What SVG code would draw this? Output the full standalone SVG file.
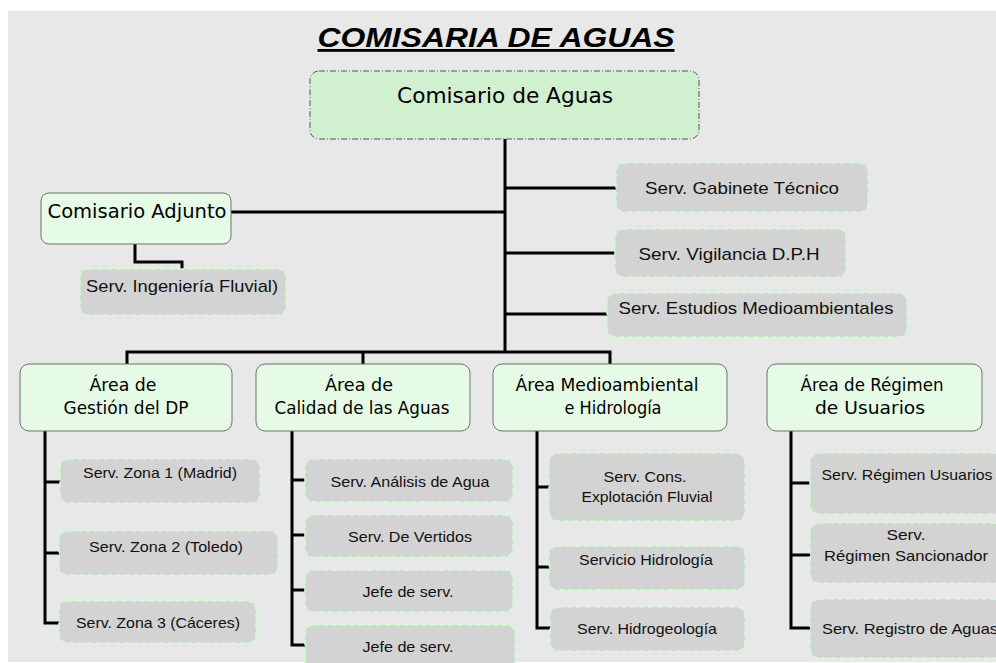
<svg xmlns="http://www.w3.org/2000/svg" width="996" height="663" viewBox="0 0 996 663">
<style>
.bg{fill:#e8e8e8}
.main{fill:#d0f0d0;stroke:#555;stroke-width:1;stroke-dasharray:6,2,1,2}
.area{fill:#e5fbe5;stroke:#707070;stroke-width:1}
.svc{fill:#d3d3d3;stroke:#ccffcc;stroke-width:1.5;stroke-dasharray:6,3}
.c{fill:none;stroke:#000;stroke-width:3}
.comic{font-family:"Comic Sans MS","DejaVu Sans",sans-serif;fill:#000;text-anchor:middle}
.arial{font-family:"Liberation Sans",Arial,sans-serif;fill:#111;text-anchor:middle}
.title{font-family:"Liberation Sans",Arial,sans-serif;font-weight:bold;font-style:italic;font-size:28px;fill:#000;text-anchor:middle;text-decoration:underline}
</style>
<rect x="0" y="0" width="996" height="663" fill="#fff"/>
<rect class="bg" x="8" y="11" width="988" height="651"/>
<text class="title" x="496" y="47" textLength="357" lengthAdjust="spacingAndGlyphs">COMISARIA DE AGUAS</text>
<g id="connectors">
<path class="c" d="M505,139 V352 M231,212 H505 M505,188 H616 M505,253 H615 M505,314 H607"/>
<path class="c" d="M127,364 V352 H610 V364 M363,352 V364"/>
<path class="c" d="M135,244 V262 H182 V269"/>
<path class="c" d="M45,431 V623 H60 M45,482 H60 M45,553 H59"/>
<path class="c" d="M292,431 V645 H305 M292,480 H305 M292,535 H305 M292,590 H305"/>
<path class="c" d="M537,431 V628 H550 M537,487 H549 M537,567 H549"/>
<path class="c" d="M791,431 V628 H810 M791,483 H810 M791,555 H810"/>
</g>
<g id="comisario">
<rect class="main" x="310" y="71" width="389" height="68" rx="9"/>
<text class="comic" x="505" y="103" font-size="22" textLength="216" lengthAdjust="spacingAndGlyphs">Comisario de Aguas</text>
</g>
<g id="adjunto">
<rect class="area" x="41" y="193" width="190" height="51" rx="8"/>
<text class="comic" x="137" y="218" font-size="20" textLength="179" lengthAdjust="spacingAndGlyphs">Comisario Adjunto</text>
</g>
<g id="ingenieria">
<rect class="svc" x="80" y="269" width="206" height="46" rx="8"/>
<text class="arial" x="182" y="292" font-size="17" textLength="192" lengthAdjust="spacingAndGlyphs">Serv. Ingeniería Fluvial)</text>
</g>
<g id="gabinete">
<rect class="svc" x="616" y="163" width="252" height="49" rx="8"/>
<text class="arial" x="742" y="194" font-size="17" textLength="194" lengthAdjust="spacingAndGlyphs">Serv. Gabinete Técnico</text>
</g>
<g id="vigilancia">
<rect class="svc" x="615" y="229" width="231" height="48" rx="8"/>
<text class="arial" x="729" y="260" font-size="17" textLength="181" lengthAdjust="spacingAndGlyphs">Serv. Vigilancia D.P.H</text>
</g>
<g id="estudios">
<rect class="svc" x="607" y="293" width="300" height="44" rx="8"/>
<text class="arial" x="756" y="314" font-size="17" textLength="275" lengthAdjust="spacingAndGlyphs">Serv. Estudios Medioambientales</text>
</g>
<g id="area-gestion">
<rect class="area" x="20" y="364" width="212" height="67" rx="9"/>
<text class="comic" x="123" y="391" font-size="17" textLength="67" lengthAdjust="spacingAndGlyphs">Área de</text>
<text class="comic" x="126" y="414" font-size="17" textLength="125" lengthAdjust="spacingAndGlyphs">Gestión del DP</text>
</g>
<g id="area-calidad">
<rect class="area" x="256" y="364" width="214" height="67" rx="9"/>
<text class="comic" x="359" y="391" font-size="17" textLength="68" lengthAdjust="spacingAndGlyphs">Área de</text>
<text class="comic" x="362" y="414" font-size="17" textLength="175" lengthAdjust="spacingAndGlyphs">Calidad de las Aguas</text>
</g>
<g id="area-medio">
<rect class="area" x="493" y="364" width="234" height="67" rx="9"/>
<text class="comic" x="607" y="391" font-size="17" textLength="183" lengthAdjust="spacingAndGlyphs">Área Medioambiental</text>
<text class="comic" x="613" y="414" font-size="17" textLength="97" lengthAdjust="spacingAndGlyphs">e Hidrología</text>
</g>
<g id="area-regimen">
<rect class="area" x="767" y="364" width="215" height="67" rx="9"/>
<text class="comic" x="872" y="391" font-size="17" textLength="143" lengthAdjust="spacingAndGlyphs">Área de Régimen</text>
<text class="comic" x="870" y="414" font-size="17" textLength="110" lengthAdjust="spacingAndGlyphs">de Usuarios</text>
</g>
<g id="zona1">
<rect class="svc" x="60" y="459" width="200" height="44" rx="8"/>
<text class="arial" x="160" y="478" font-size="15" textLength="154" lengthAdjust="spacingAndGlyphs">Serv. Zona 1 (Madrid)</text>
</g>
<g id="zona2">
<rect class="svc" x="59" y="531" width="219" height="44" rx="8"/>
<text class="arial" x="166" y="552" font-size="15" textLength="154" lengthAdjust="spacingAndGlyphs">Serv. Zona 2 (Toledo)</text>
</g>
<g id="zona3">
<rect class="svc" x="59" y="601" width="197" height="42" rx="8"/>
<text class="arial" x="158" y="628" font-size="15" textLength="164" lengthAdjust="spacingAndGlyphs">Serv. Zona 3 (Cáceres)</text>
</g>
<g id="analisis">
<rect class="svc" x="305" y="459" width="208" height="43" rx="8"/>
<text class="arial" x="410" y="487" font-size="15" textLength="159" lengthAdjust="spacingAndGlyphs">Serv. Análisis de Agua</text>
</g>
<g id="vertidos">
<rect class="svc" x="305" y="515" width="208" height="42" rx="8"/>
<text class="arial" x="410" y="542" font-size="15" textLength="124" lengthAdjust="spacingAndGlyphs">Serv. De Vertidos</text>
</g>
<g id="jefe1">
<rect class="svc" x="305" y="570" width="208" height="42" rx="8"/>
<text class="arial" x="408" y="597" font-size="15" textLength="91" lengthAdjust="spacingAndGlyphs">Jefe de serv.</text>
</g>
<g id="jefe2">
<rect class="svc" x="305" y="625" width="210" height="48" rx="8"/>
<text class="arial" x="408" y="652" font-size="15" textLength="91" lengthAdjust="spacingAndGlyphs">Jefe de serv.</text>
</g>
<g id="cons">
<rect class="svc" x="549" y="453" width="196" height="68" rx="9"/>
<text class="arial" x="645" y="482" font-size="15" textLength="83" lengthAdjust="spacingAndGlyphs">Serv. Cons.</text>
<text class="arial" x="647" y="502" font-size="15" textLength="131" lengthAdjust="spacingAndGlyphs">Explotación Fluvial</text>
</g>
<g id="hidrologia">
<rect class="svc" x="549" y="546" width="196" height="44" rx="8"/>
<text class="arial" x="646" y="565" font-size="15" textLength="134" lengthAdjust="spacingAndGlyphs">Servicio Hidrología</text>
</g>
<g id="hidrogeologia">
<rect class="svc" x="550" y="607" width="195" height="44" rx="8"/>
<text class="arial" x="647" y="634" font-size="15" textLength="140" lengthAdjust="spacingAndGlyphs">Serv. Hidrogeología</text>
</g>
<g id="usuarios">
<rect class="svc" x="810" y="453" width="195" height="61" rx="9"/>
<text class="arial" x="907" y="480" font-size="15" textLength="171" lengthAdjust="spacingAndGlyphs">Serv. Régimen Usuarios</text>
</g>
<g id="sancionador">
<rect class="svc" x="810" y="523" width="195" height="60" rx="9"/>
<text class="arial" x="906" y="540" font-size="15" textLength="39" lengthAdjust="spacingAndGlyphs">Serv.</text>
<text class="arial" x="906" y="561" font-size="15" textLength="164" lengthAdjust="spacingAndGlyphs">Régimen Sancionador</text>
</g>
<g id="registro">
<rect class="svc" x="810" y="599" width="195" height="59" rx="9"/>
<text class="arial" x="910" y="634" font-size="15" textLength="176" lengthAdjust="spacingAndGlyphs">Serv. Registro de Aguas</text>
</g>
</svg>
